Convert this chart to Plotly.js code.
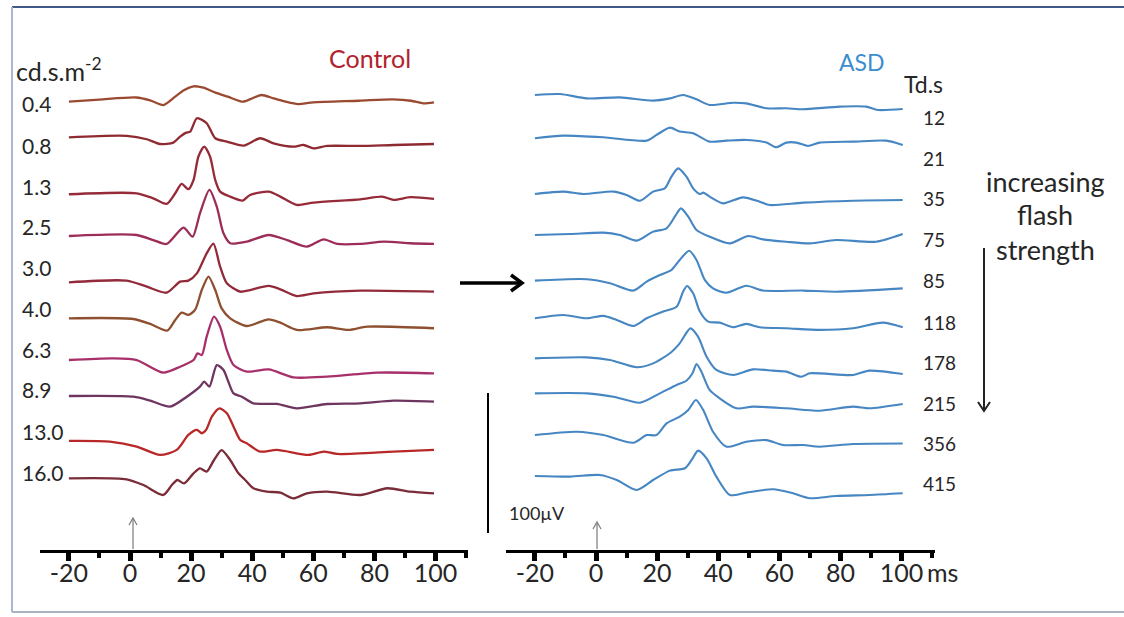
<!DOCTYPE html>
<html>
<head>
<meta charset="utf-8">
<script src="https://cdn.plot.ly/plotly-3.0.1.min.js"></script>
<style>html,body{margin:0;padding:0;background:#fff;}#chart{width:1124px;height:617px;}</style>
</head>
<body>
<div id="chart"></div>
<script>
// ---------- DATA ----------
// Time axis ticks (ms)
const tickVals = [-20, 0, 20, 40, 60, 80, 100];
const tickText = ['-20', '0', '20', '40', '60', '80', '100'];
const minorTickVals = [-10, 10, 30, 50, 70, 90, 110];

// Flash strengths
const controlLevels = ['0.4', '0.8', '1.3', '2.5', '3.0', '4.0', '6.3', '8.9', '13.0', '16.0'];
const asdLevels = ['12', '21', '35', '75', '85', '118', '178', '215', '356', '415'];

// Stacking offsets of each trace baseline (µV above the time axis)
const controlOffsets = [320.2, 294.8, 254.1, 224.3, 191.2, 165.5, 135.7, 110.0, 77.9, 51.2];
const asdOffsets = [325.0, 294.1, 254.3, 225.0, 192.4, 165.5, 136.9, 111.9, 82.1, 52.9];

// Control ERG waveforms: time (ms) and amplitude (µV, relative to baseline)
const c04_t = [-20, -10, 2, 6.6, 11, 14.8, 17.5, 20.8, 24, 28, 32, 37, 40, 43, 47, 51, 55, 60, 75, 86, 92, 96, 99.5];
const c04_v = [0, 1.5, 3, 1, -2.4, 3.6, 8, 11, 10, 6.5, 3.6, 0, 2.4, 4.8, 2.4, 0, -1.7, -0.5, 0.7, 1.7, 0.7, -1.2, -0.5];
const c08_t = [-20, -1.1, 5.5, 9.8, 14.2, 16.4, 18.4, 19.7, 21.9, 25.1, 27.9, 31.7, 37.2, 42.6, 47, 53.5, 56.8, 60.1, 64.5, 75.4, 86.3, 99.5];
const c08_v = [0, 1, -1.4, -4.8, -3.8, 0.5, 3.3, 4, 13.6, 10, -0.7, -3.1, -6, -0.7, -4.3, -6.7, -5.5, -7.9, -6.2, -6.2, -5.5, -4.8];
const c13_t = [-20, 2.2, 7.6, 12, 14.8, 16.9, 19.1, 20.8, 22.4, 24.3, 26.2, 27.9, 29.5, 32.8, 36.9, 39.3, 45.4, 49.2, 54.6, 60.1, 75.4, 82.5, 86.3, 91.8, 99.5];
const c13_v = [0, 0.7, -2.9, -6.9, 0.7, 7.4, 3.6, 10.2, 27, 34, 27, 10.2, 1.9, -1.7, -4.5, -0.5, 1.9, -1.7, -7.6, -6, -3.6, -1.7, -4, -2.1, -3.3];
const c25_t = [-20, 2.2, 7.6, 12, 17.5, 20.5, 22.9, 26, 28.4, 30.6, 32.8, 38.2, 45.4, 51.4, 57.9, 63.4, 67.8, 75.4, 83.1, 91.8, 99.5];
const c25_v = [0, 0.7, -2.9, -5.7, 6, -0.5, 16.2, 32.9, 21, 1.9, -5.2, -4, 0.7, -2.9, -7.6, -2.4, -5.7, -5.7, -4, -5.2, -5.7];
const c30_t = [-20, -1.1, 5.5, 12, 16.4, 19.1, 21.9, 25.1, 27.3, 29.5, 31.7, 36.1, 39.3, 45.4, 49.2, 54.6, 60.1, 75.4, 99.5];
const c30_v = [0, 1.2, -3.1, -7.4, 0.5, 1.2, 6.4, 20.7, 27.6, 11.2, -0.7, -6.7, -5.5, -2.6, -5, -9.8, -7.9, -6, -6.7];
const c40_t = [-20, 1.1, 6.6, 12.2, 14.8, 16.9, 19.1, 21.3, 23.5, 25.7, 27.9, 30, 32.8, 38.2, 45.4, 49.2, 54.6, 64.5, 71.6, 77.6, 99.5];
const c40_v = [0, -0.5, -4, -8.8, -1.2, 4, 2.4, 6, 20.2, 29.8, 20.2, 7.1, 0, -5.5, -0.7, -3.1, -8.3, -6.4, -8.3, -6, -7.1];
const c63_t = [-20, -5.5, 2.2, 10.9, 16.4, 20.8, 22.1, 23.5, 25.1, 27.5, 29.5, 31.7, 33.9, 38.2, 45.4, 53.5, 64.5, 80.9, 99.5];
const c63_v = [0, 1.2, 0, -9, -4.8, 0, 4.8, 3.6, 16.7, 31, 23.8, 7.1, -3.6, -8.3, -6.7, -12.4, -11.9, -9, -9.5];
const c89_t = [-20, 1.1, 6.6, 13.1, 18.6, 22.9, 24.3, 26, 28.4, 30.6, 32.2, 33.9, 36.6, 40.4, 48.1, 54.6, 64.5, 75.4, 86.3, 99.5];
const c89_v = [0, -0.5, -3.3, -7.6, -0.5, 6.7, 10.2, 6.7, 22.1, 18.6, 10.2, 1.9, -0.5, -5.2, -5.7, -8.8, -5.7, -5.2, -3.3, -4];
const c130_t = [-20, -6.6, 2.2, 9.8, 15.3, 19.1, 21.9, 23.5, 24.9, 26.8, 29.3, 31.7, 33.9, 36.1, 38.2, 42.6, 48.1, 58.5, 63.4, 67.8, 86.3, 99.5];
const c130_v = [0, -0.5, -4, -10, -6.4, 4.3, 7.9, 5.5, 7.9, 17.4, 23.3, 19.8, 10.2, 0.7, -1.7, -7.6, -6.4, -10, -7.6, -9.3, -7.6, -6.4];
const c160_t = [-20, -1.1, 4.4, 10.9, 13.7, 15.5, 17.7, 20.8, 22.9, 25.1, 27.5, 30, 32.8, 35.5, 37.7, 40.4, 44.8, 49.2, 53.5, 57.9, 64.5, 75.4, 84.2, 91.8, 99.5];
const c160_v = [0, -0.7, -4.8, -11.9, -4.8, -1.2, -3.6, 3.6, 7.1, 4.8, 13.1, 20.2, 13.1, 3.6, -1.2, -7.1, -9.5, -10.2, -14.3, -10.7, -9.5, -11.9, -7.1, -9.5, -10.7];

// ASD ERG waveforms: time (ms) and amplitude (µV, relative to baseline)
const a12_t = [-20, -11.8, -3, 7.8, 18.7, 24.2, 28.5, 32.9, 37.2, 44.9, 49.2, 55.8, 62.3, 67.8, 79.7, 88.4, 92.3, 100.4];
const a12_v = [0, 0.7, -2.4, -1.7, -4, -2.4, 0, -3.1, -7.1, -5.5, -6, -9.5, -9.5, -10.2, -8.3, -8.3, -10.7, -10];
const a21_t = [-20, -10.7, 2.4, 16.6, 19.8, 24.2, 27.4, 31.8, 37.2, 42.7, 49.2, 55.8, 59, 62.3, 65.6, 69.4, 73.2, 84.1, 95, 100.4];
const a21_v = [0, 1.9, 0.7, -1.7, 2.4, 7.6, 4.8, 3.6, -2.4, -1.7, -1.2, -3.1, -6.4, -3.1, -3.1, -5.5, -3.1, -2.4, -1.7, -4.8];
const a35_t = [-20, -10.7, -4.1, 5.7, 10, 14.4, 18.7, 22.5, 24.7, 26.9, 29.6, 31.8, 34, 35.1, 37.2, 41.6, 48.1, 53.6, 56.9, 67.8, 84.1, 100.4];
const a35_v = [0, 1.7, 0, 1.7, -0.7, -4.8, 1.7, 4, 12.4, 18.3, 12.4, 4, 0, 1, -1.9, -6.7, -2.4, -5.5, -7.9, -6.2, -4.8, -4.3];
const a75_t = [-20, -8.5, 2.4, 7.8, 13.3, 18.7, 23.1, 25.8, 27.8, 30.2, 32.9, 37.2, 43.8, 49.8, 54.7, 62.3, 70, 78.6, 91.7, 100.4];
const a75_v = [0, 0.7, 1.7, 0, -4, 2.4, 4.8, 13.1, 19, 13.1, 3.6, -1.2, -6, -0.7, -3.1, -4.8, -6, -3.6, -4.8, 0.7];
const a85_t = [-20, -3, 4.6, 12.2, 16.6, 20.9, 24.7, 27.4, 30.5, 32.9, 35.6, 38.3, 42.7, 49.2, 54.7, 67.8, 78.6, 100.4];
const a85_v = [0, 1, -1.9, -7.1, -0.7, 4, 7.6, 14.8, 21.4, 14.8, 0.5, -5.5, -8.6, -3.6, -7.1, -7.1, -7.9, -5.5];
const a118_t = [-20, -10.7, -3, 2.4, 6.8, 12.2, 16.6, 22, 26.4, 28.5, 29.8, 31.8, 34, 36.7, 40.5, 44.9, 49.2, 53.6, 62.3, 73.2, 84.1, 93.9, 100.4];
const a118_v = [0, 2.4, 0, 1.7, -1.2, -5.5, 0, 4.8, 8.3, 19, 23.1, 17.9, 4.8, -2.4, -3.1, -6.4, -4, -6.4, -7.1, -8.3, -7.1, -3.1, -6.4];
const a178_t = [-20, -3, 4.6, 13.3, 18.7, 24.2, 27.4, 30.9, 33.4, 36.2, 39.4, 44.9, 51.4, 57.9, 62.3, 67.2, 70, 84.1, 89.5, 100.4];
const a178_v = [0, 0.7, -1.2, -6.4, -3.6, 3.6, 10.7, 21.4, 15.5, 1.2, -8.3, -11.9, -7.9, -8.8, -9.5, -13.1, -10.7, -11.9, -8.8, -11.2];
const a215_t = [-20, -3, 5.7, 14.4, 20.9, 26.4, 29.6, 31.6, 32.9, 34.5, 37.2, 40.5, 46, 51.4, 62.3, 73.2, 84.1, 89.5, 100.4];
const a215_v = [0, 0, -2.4, -6.7, 0, 6, 9, 14.3, 21, 15.5, 2.4, -3.6, -10.7, -9.5, -10.7, -12.4, -9.5, -10.7, -7.6];
const a356_t = [-20, -6.3, 2.4, 12.2, 16.6, 19.8, 23.1, 27.4, 30.2, 32.7, 35.1, 38.3, 42.7, 49.2, 55.8, 61.2, 67.8, 73.2, 84.1, 100.4];
const a356_v = [0, 2.4, 0, -5.5, 0, 0, 8.3, 13.1, 17.9, 25, 17.9, 2.4, -8.3, -4.8, -3.6, -7.1, -7.1, -8.3, -6.4, -6];
const a415_t = [-20, -8.5, 1.3, 6.8, 13.3, 18.7, 24.2, 29.1, 31.3, 33.4, 36.2, 39.4, 43.8, 49.2, 58, 64.5, 70, 78.6, 89.5, 100.4];
const a415_v = [0, -0.5, 0.7, -2.9, -10, -2.9, 3.8, 5.5, 11.4, 18.1, 12.6, -0.5, -13.6, -11.9, -9.5, -12.4, -15.9, -14.3, -13.6, -12.4];

// ---------- STYLE / LAYOUT ----------
const W = 1124, H = 617;
const PXUV = 1.4;            // pixels per µV
const AXIS_Y = 550;          // pixel row of the time axes
const px = x => x / W;
const py = y => 1 - y / H;

const controlSeries = [[c04_t, c04_v], [c08_t, c08_v], [c13_t, c13_v], [c25_t, c25_v], [c30_t, c30_v],
  [c40_t, c40_v], [c63_t, c63_v], [c89_t, c89_v], [c130_t, c130_v], [c160_t, c160_v]];
const asdSeries = [[a12_t, a12_v], [a21_t, a21_v], [a35_t, a35_v], [a75_t, a75_v], [a85_t, a85_v],
  [a118_t, a118_v], [a178_t, a178_v], [a215_t, a215_v], [a356_t, a356_v], [a415_t, a415_v]];

const controlColors = ['#9a4a30', '#8e2a30', '#952a38', '#9c2d58', '#922a3a', '#8e5030', '#a8306a', '#6e3560', '#b82828', '#7a2c38'];
const asdColor = '#4686c2';

const traces = [];
controlSeries.forEach(([t, v], i) => {
  traces.push({
    type: 'scatter', mode: 'lines', xaxis: 'x', yaxis: 'y',
    x: t, y: v.map(d => d + controlOffsets[i]),
    line: {color: controlColors[i], width: 2.3, shape: 'spline', smoothing: 0.7},
    hoverinfo: 'skip'
  });
});
asdSeries.forEach(([t, v], i) => {
  traces.push({
    type: 'scatter', mode: 'lines', xaxis: 'x2', yaxis: 'y',
    x: t, y: v.map(d => d + asdOffsets[i]),
    line: {color: asdColor, width: 2.1, shape: 'spline', smoothing: 0.7},
    hoverinfo: 'skip'
  });
});

const FONT = 'Lato, "Open Sans", "DejaVu Sans", sans-serif';
const TXT = '#262626';

function timeAxis(domainPx, zeroPx) {
  const pxPerMs = 3.055;
  return {
    domain: [px(domainPx[0]), px(domainPx[1])],
    range: [(domainPx[0] - zeroPx) / pxPerMs, (domainPx[1] - zeroPx) / pxPerMs],
    anchor: 'y',
    showline: true, linecolor: '#000', linewidth: 3,
    showgrid: false, zeroline: false,
    tickmode: 'array', tickvals: tickVals, ticktext: tickText,
    ticks: 'outside', ticklen: 8, tickwidth: 5, tickcolor: '#000',
    ticklabelstandoff: -9,
    minor: {tickmode: 'array', tickvals: minorTickVals, ticks: 'outside', ticklen: 5, tickwidth: 4, tickcolor: '#000', showgrid: false},
    tickfont: {family: FONT, size: 25, color: TXT},
    automargin: false, fixedrange: true
  };
}

const annotations = [];
function label(text, x, y, size, opts = {}) {
  annotations.push(Object.assign({
    text: text, xref: 'paper', yref: 'paper', x: px(x), y: py(y),
    xanchor: 'left', yanchor: 'middle', showarrow: false,
    font: {family: FONT, size: size, color: TXT}
  }, opts));
}
label('cd.s.m<sup>-2</sup>', 14, 70, 25);
const controlLabelY = [103, 145, 186, 227, 267, 308, 349, 389, 431, 472];
controlLevels.forEach((s, i) => label(s, 20, controlLabelY[i], 21));
label('Control', 370, 58, 24, {xanchor: 'center', font: {family: FONT, size: 25, color: '#b3222c'}});
label('ASD', 862, 62, 22, {xanchor: 'center', font: {family: FONT, size: 23, color: '#3b8dcf'}});
label('Td.s', 902, 84, 23);
const asdLabelY = [117, 158, 198, 240, 280, 322, 362, 403, 443, 483];
asdLevels.forEach((s, i) => label(s, 921, asdLabelY[i], 19));
label('increasing', 1045, 181, 27, {xanchor: 'center'});
label('flash', 1045, 215, 27, {xanchor: 'center'});
label('strength', 1045, 249, 27, {xanchor: 'center'});
label('100µV', 507, 513, 18);
label('ms', 925, 572, 25);

const shapes = [];
function seg(pts, color, width) {
  const d = pts.map((p, k) => (k ? 'L' : 'M') + px(p[0]).toFixed(5) + ',' + py(p[1]).toFixed(5)).join(' ');
  shapes.push({type: 'path', xref: 'paper', yref: 'paper', path: d, line: {color: color, width: width}, layer: 'above'});
}
// frame
seg([[12, 7], [1124, 7]], '#40598a', 2);
seg([[12, 7], [12, 612]], '#a9b8d2', 2);
seg([[12, 612], [1124, 612]], '#aab3c2', 2);
// horizontal arrow between panels
seg([[460, 283], [521, 283]], '#000', 3.5);
seg([[511, 275], [522, 283], [511, 291]], '#000', 3.5);
// down arrow (increasing flash strength)
seg([[984, 248], [984, 410]], '#222', 2);
seg([[978, 402], [984, 411], [990, 402]], '#222', 2);
// stimulus markers
seg([[133, 549], [133, 519]], '#7a7a7a', 1.2);
seg([[129, 525], [133, 518], [137, 525]], '#7a7a7a', 1.2);
seg([[597, 549], [597, 523]], '#7a7a7a', 1.2);
seg([[593, 529], [597, 522], [601, 529]], '#7a7a7a', 1.2);
// amplitude scale bar (100 µV)
seg([[488, 393], [488, 393 + 100 * PXUV]], '#000', 2);

const layout = {
  width: W, height: H,
  margin: {l: 0, r: 0, t: 0, b: 0},
  paper_bgcolor: '#fff', plot_bgcolor: 'rgba(0,0,0,0)',
  showlegend: false, hovermode: false,
  xaxis: timeAxis([40, 468], 130),
  xaxis2: timeAxis([506, 935], 596),
  yaxis: {domain: [py(AXIS_Y), 1], range: [0, AXIS_Y / PXUV], visible: false, fixedrange: true},
  annotations: annotations,
  shapes: shapes
};

Plotly.newPlot('chart', traces, layout, {displayModeBar: false, staticPlot: true});
</script>
</body>
</html>
